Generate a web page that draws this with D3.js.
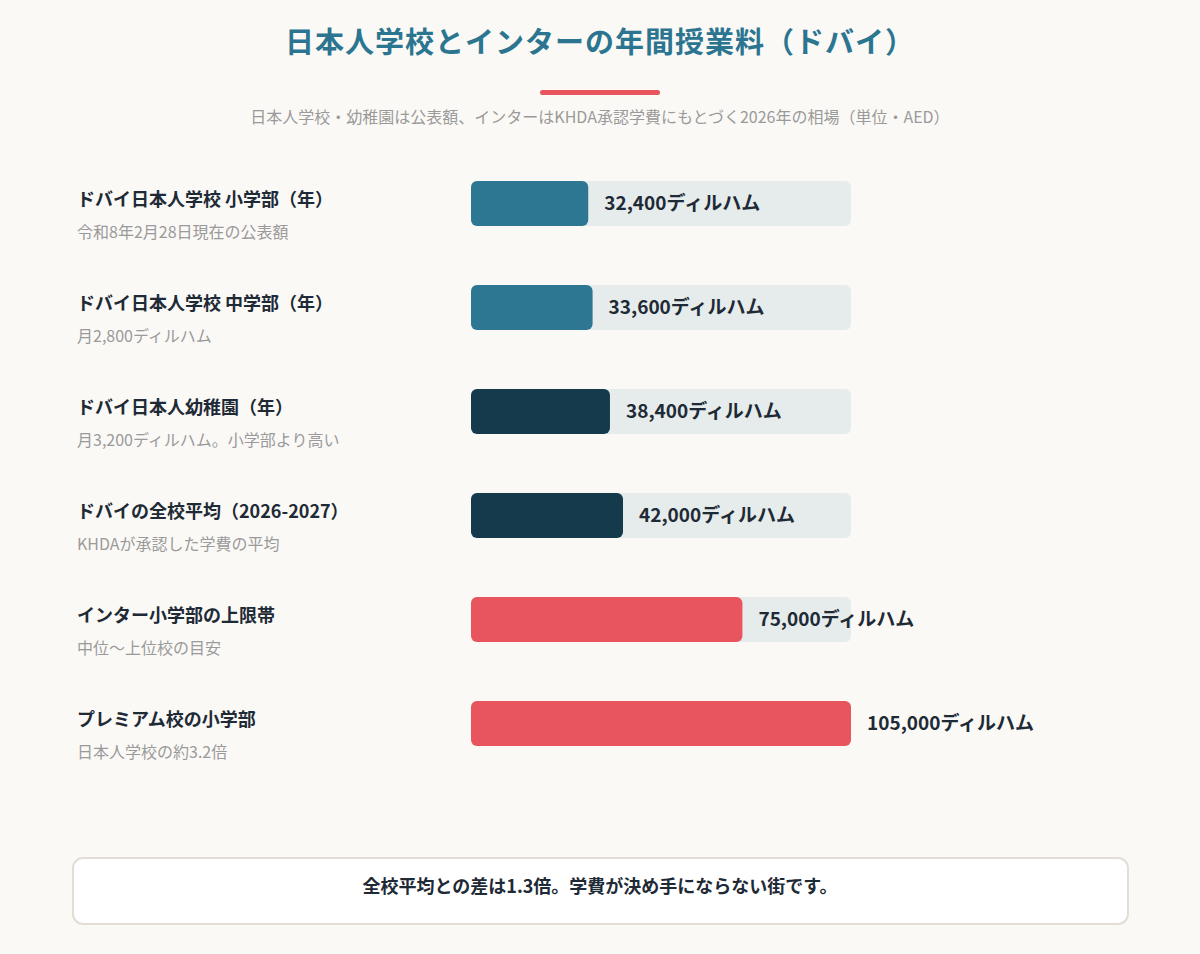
<!DOCTYPE html>
<html><head><meta charset="utf-8">
<script src="https://cdn.jsdelivr.net/npm/d3@7"></script>
<style>body{margin:0;background:#faf9f6;font-family:"Noto Sans CJK JP","Noto Sans",sans-serif;}</style>
</head><body><svg id="c" width="1200" height="954"></svg>
<script>
const labels=["ドバイ日本人学校 小学部（年）","ドバイ日本人学校 中学部（年）","ドバイ日本人幼稚園（年）","ドバイの全校平均（2026-2027）","インター小学部の上限帯","プレミアム校の小学部"];
const notes=["令和8年2月28日現在の公表額","月2,800ディルハム","月3,200ディルハム。小学部より高い","KHDAが承認した学費の平均","中位〜上位校の目安","日本人学校の約3.2倍"];
const values=[32400,33600,38400,42000,75000,105000];
const groups=["jp","jp","dark","dark","intl","intl"];
const colorMap={jp:"#2e7793",dark:"#153a4b",intl:"#e9555e"};
const svg=d3.select("#c");
svg.append("rect").attr("width",1200).attr("height",954).attr("fill","#faf9f6");
svg.append("text").attr("x",600).attr("y",53).attr("text-anchor","middle").attr("font-size",29).attr("font-weight",700).attr("fill","#2c7590").attr("letter-spacing",1).text("日本人学校とインターの年間授業料（ドバイ）");
svg.append("rect").attr("x",540).attr("y",90).attr("width",120).attr("height",5).attr("rx",2.5).attr("fill","#e9555e");
svg.append("text").attr("x",600).attr("y",123).attr("text-anchor","middle").attr("font-size",16).attr("fill","#9a9a9a").text("日本人学校・幼稚園は公表額、インターはKHDA承認学費にもとづく2026年の相場（単位・AED）");
const x=d3.scaleLinear().domain([0,105000]).range([0,380]);
const y=d3.scaleBand().domain(d3.range(values.length)).range([181,181+104*6]).paddingInner(0);
const g=svg.selectAll("g.row").data(values).join("g").attr("transform",(d,i)=>`translate(0,${y(i)})`);
g.append("rect").attr("x",471).attr("width",x(105000)).attr("height",45).attr("rx",6).attr("fill","#e6ecec");
g.append("rect").attr("x",471).attr("width",d=>x(d)).attr("height",45).attr("rx",6).attr("fill",(d,i)=>colorMap[groups[i]]);
g.append("text").attr("x",d=>471+x(d)+16).attr("y",29).attr("font-size",19).attr("font-weight",700).attr("fill","#1e2a35").text(d=>d3.format(",")(d)+"ディルハム");
g.append("text").attr("x",77).attr("y",25).attr("font-size",18).attr("font-weight",700).attr("fill","#1e2a35").text((d,i)=>labels[i]);
g.append("text").attr("x",77).attr("y",57).attr("font-size",16).attr("fill","#9a9a9a").text((d,i)=>notes[i]);
svg.append("rect").attr("x",73).attr("y",858).attr("width",1055).attr("height",66).attr("rx",10).attr("fill","#fff").attr("stroke","#e2ded6").attr("stroke-width",2);
svg.append("text").attr("x",600).attr("y",893).attr("text-anchor","middle").attr("font-size",18).attr("font-weight",700).attr("fill","#1e2a35").text("全校平均との差は1.3倍。学費が決め手にならない街です。");
</script></body></html>
